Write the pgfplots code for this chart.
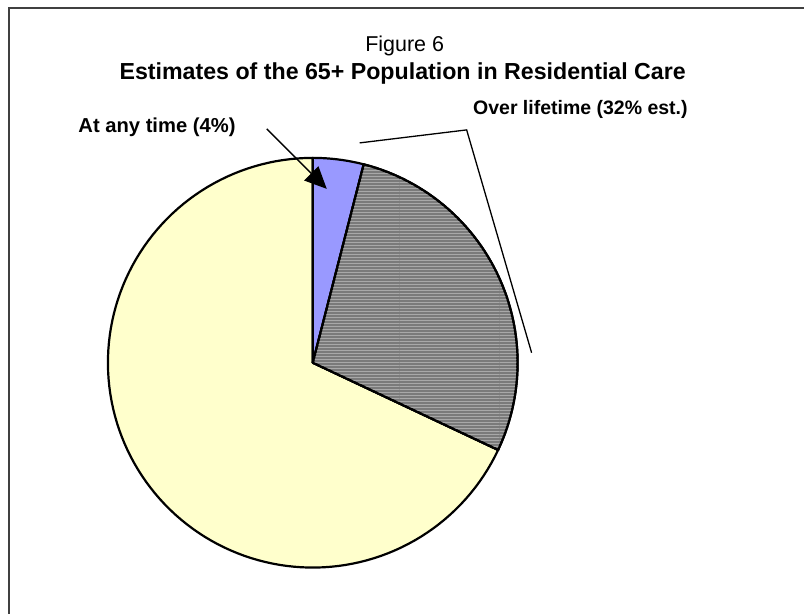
\documentclass[border=0pt]{standalone}
\usepackage{pgfplots}
\pgfplotsset{compat=1.18}
\usepackage{pgfplotstable}
\usepackage{fontspec}
\setmainfont{Liberation Sans}
\usetikzlibrary{arrows.meta,patterns}

\definecolor{sliceblue}{RGB}{153,153,255}
\definecolor{sliceyellow}{RGB}{255,255,204}
\definecolor{slicegrey}{RGB}{122,122,122}
\definecolor{stripegrey}{RGB}{168,168,168}

% share of the 65+ population, in percent
\pgfplotstableread{
slice     share
anytime   4
lifetime  28
remainder 68
}\piedata

\begin{document}
\begin{tikzpicture}
\pgfplotstablegetelem{0}{share}\of\piedata \pgfmathsetmacro\sA{\pgfplotsretval}
\pgfplotstablegetelem{1}{share}\of\piedata \pgfmathsetmacro\sB{\pgfplotsretval}
\pgfplotstablegetelem{2}{share}\of\piedata \pgfmathsetmacro\sC{\pgfplotsretval}
% cumulative angles, clockwise from twelve o'clock
\pgfmathsetmacro\aA{3.6*\sA}
\pgfmathsetmacro\aB{3.6*(\sA+\sB)}
\pgfmathsetmacro\aC{3.6*(\sA+\sB+\sC)}
\begin{axis}[
  width=805pt, height=614pt, scale only axis,
  xmin=0, xmax=805, ymin=0, ymax=614, y dir=reverse,
  hide axis, clip=false,
]
  \path[fill=white] (axis cs:0,0) rectangle (axis cs:805,614);
  % chart frame
  \draw[line width=1.2pt, black!75] (axis cs:9,614) -- (axis cs:9,8) -- (axis cs:805,8);

  % pie slices (centre 313,363; radius 205)
  \addplot[draw=black, line width=2.2pt, line join=round, fill=sliceyellow,
           domain=\aB:\aC, samples=120, variable=\t]
    ({313+205*sin(\t)}, {363-205*cos(\t)}) -- (axis cs:313,363) -- cycle;
  \addplot[draw=black, line width=2.2pt, line join=round, fill=sliceblue,
           domain=0:\aA, samples=20, variable=\t]
    ({313+205*sin(\t)}, {363-205*cos(\t)}) -- (axis cs:313,363) -- cycle;
  \addplot[draw=black, line width=2.2pt, line join=round, fill=slicegrey,
           postaction={pattern=horizontal lines, pattern color=stripegrey},
           domain=\aA:\aB, samples=60, variable=\t]
    ({313+205*sin(\t)}, {363-205*cos(\t)}) -- (axis cs:313,363) -- cycle;

  % titles
  \node[anchor=base, font=\fontsize{21.5}{25}\selectfont] at (axis cs:405,52) {Figure 6};
  \node[anchor=base, font=\fontsize{23.2}{27}\selectfont\bfseries] at (axis cs:403,80)
    {Estimates of the 65+ Population in Residential Care};

  % callouts
  \node[anchor=base west, font=\fontsize{20.2}{23}\selectfont\bfseries] at (axis cs:75,133)
    {At any time (4\%)};
  \draw[line width=1.3pt, -{Triangle[length=22pt,width=20pt]}]
    (axis cs:267,129) -- (axis cs:327,189);
  \node[anchor=base west, font=\fontsize{19.5}{22}\selectfont\bfseries] at (axis cs:470,115)
    {Over lifetime (32\% est.)};
  \draw[line width=1.3pt] (axis cs:360,143) -- (axis cs:467,130) -- (axis cs:532,353);
\end{axis}
\end{tikzpicture}
\end{document}
